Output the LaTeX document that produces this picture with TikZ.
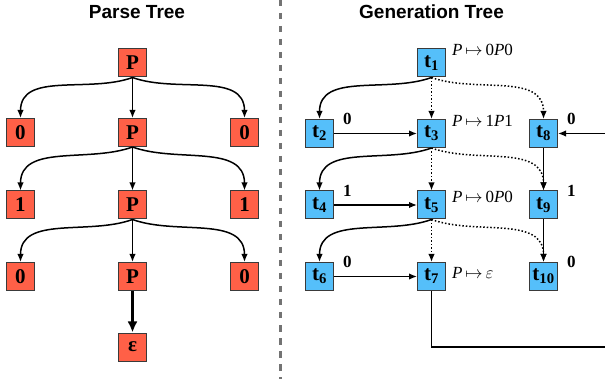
\documentclass[tikz,border=0pt]{standalone}
\usepackage{fontspec}
\setmainfont{Liberation Serif}
\newfontfamily\titlefont{Liberation Sans}
\usetikzlibrary{positioning,arrows.meta}
\definecolor{parsered}{HTML}{FF6047}
\definecolor{genblue}{HTML}{55BFFA}
\definecolor{boxline}{HTML}{3A3A3A}
\newcommand{\prule}[1]{\textit{P}\,$\mapsto$\,#1}
\begin{document}
\begin{tikzpicture}[x=1pt,y=1pt,>={Latex[length=8pt,width=6.5pt]},
    box/.style={draw=boxline,line width=1pt,minimum size=28pt,inner sep=0pt,
      font=\fontsize{21}{21}\selectfont\bfseries},
    pbox/.style={box,fill=parsered},
    gbox/.style={box,fill=genblue},
    arr/.style={->,line width=1.5pt},
    dot/.style={arr,dotted},
    num/.style={font=\fontsize{17}{17}\selectfont\bfseries,inner sep=1pt},
    rule/.style={font=\fontsize{17}{17}\selectfont,inner sep=1pt},
    title/.style={font=\fontsize{19}{19}\selectfont\titlefont\bfseries}]

  \useasboundingbox (0,0) rectangle (605,-379);
  \clip (0,0) rectangle (605,-379);

  \node[title] (ptitle) at (137,-12) {Parse Tree};
  \node[title] (gtitle) at (431.5,-12) {Generation Tree};
  \draw[gray!110,line width=3pt,dash pattern=on 6.5pt off 6.5pt] (280,0) -- (280,-379);

  % parse tree
  \node[pbox] (p1) at (132.5,-63) {P};
  \node[pbox] (l1) at (20.5,-132.5) {0};
  \node[pbox] (p2) at (132.5,-132.5) {P};
  \node[pbox] (r1) at (244.5,-132.5) {0};
  \node[pbox] (l2) at (20.5,-205) {1};
  \node[pbox] (p3) at (132.5,-205) {P};
  \node[pbox] (r2) at (244.5,-205) {1};
  \node[pbox] (l3) at (20.5,-276.5) {0};
  \node[pbox] (p4) at (132.5,-276.5) {P};
  \node[pbox] (r3) at (244.5,-276.5) {0};
  \node[pbox] (eps) at (132.5,-347) {ε};

  \foreach \a/\l/\m/\r in {p1/l1/p2/r1,p2/l2/p3/r2,p3/l3/p4/r3} {
    \draw[arr] (\a.south) to[out=200,in=90] (\l.north);
    \draw[arr] (\a.south) -- (\m.north);
    \draw[arr] (\a.south) to[out=-20,in=90] (\r.north);
  }
  \draw[->,line width=2.6pt,>={Latex[length=11pt,width=10pt]}] (p4) -- (eps);

  % generation tree
  \node[gbox] (t1) at (431.5,-63) {t\textsubscript{1}};
  \node[gbox] (t2) at (319.5,-133.5) {t\textsubscript{2}};
  \node[gbox] (t3) at (431.5,-133.5) {t\textsubscript{3}};
  \node[gbox] (t8) at (543.5,-133.5) {t\textsubscript{8}};
  \node[gbox] (t4) at (319.5,-205) {t\textsubscript{4}};
  \node[gbox] (t5) at (431.5,-205) {t\textsubscript{5}};
  \node[gbox] (t9) at (543.5,-205) {t\textsubscript{9}};
  \node[gbox] (t6) at (319.5,-276.5) {t\textsubscript{6}};
  \node[gbox] (t7) at (431.5,-276.5) {t\textsubscript{7}};
  \node[gbox] (t10) at (543.5,-276.5) {t\textsubscript{10}};

  \node[rule,anchor=west,right=5pt of t1.north east,yshift=-1.5pt] (rule1) {\prule{0\textit{P}0}};
  \node[rule,anchor=west,right=5pt of t3.north east,yshift=-2pt] (rule3) {\prule{1\textit{P}1}};
  \node[rule,anchor=west,right=5pt of t5.north east,yshift=-6pt] (rule5) {\prule{0\textit{P}0}};
  \node[rule,anchor=west,right=5pt of t7.east,yshift=3.5pt] (rule7) {\prule{$\varepsilon$}};

  \foreach \t/\v in {2/0,4/1,6/0,8/0,9/1,10/0}
    \node[num,right=8pt of t\t.north east] (n\t) {\v};

  \foreach \a/\l/\m/\r in {t1/t2/t3/t8,t3/t4/t5/t9,t5/t6/t7/t10} {
    \draw[arr] (\a.south) to[out=200,in=90] (\l.north);
    \draw[dot] (\a.south) -- (\m.north);
    \draw[dot] (\a.south) to[out=-20,in=90] (\r.north);
  }
  \draw[arr] (t2) -- (t3);
  \draw[arr] (t4) -- (t5);
  \draw[arr] (t6) -- (t7);
  \draw[arr] (t8) -- (t9);
  \draw[arr] (t9) -- (t10);

  \coordinate (back) at (640,-347);
  \draw[arr] (t7.south) |- (back) |- (t8.east);

\end{tikzpicture}
\end{document}
